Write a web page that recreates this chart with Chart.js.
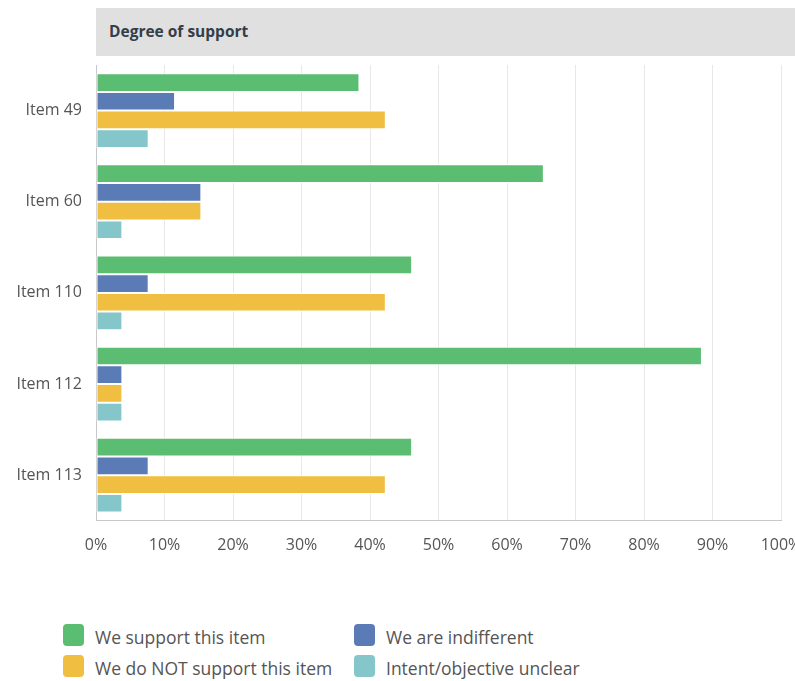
<!DOCTYPE html>
<html>
<head>
<meta charset="utf-8">
<title>Degree of support</title>
<script src="https://cdn.jsdelivr.net/npm/chart.js@4"></script>
<style>
  html, body { margin: 0; padding: 0; background: #fff; overflow: hidden; }
  body { width: 795px; height: 681px; position: relative; font-family: "Open Sans", sans-serif; }
  .header {
    position: absolute; left: 96px; top: 8px; width: 699px; height: 48px;
    background: #e0e0e0; color: #333e48; font-weight: bold; font-size: 15.5px;
    line-height: 46px; padding-left: 13px; box-sizing: border-box;
  }
  .chart-container { position: absolute; left: 0; top: 0; width: 820px; height: 570px; }
  .legend { position: absolute; left: 63px; top: 624px; width: 600px; }
  .legend-item { position: absolute; display: flex; align-items: center; font-size: 17.5px; color: #555; white-space: nowrap; height: 22px; }
  .legend-item .swatch { width: 21px; height: 22px; border-radius: 4px; margin-right: 11px; }
  .legend-item .text { position: relative; top: 2px; }
</style>
</head>
<body>
<div class="header">Degree of support</div>
<div class="chart-container"><canvas id="supportChart"></canvas></div>
<div class="legend" id="legend"></div>

<script>
// Kategoriler ve seriler (yüzde)
const items = ['Item 49', 'Item 60', 'Item 110', 'Item 112', 'Item 113'];
const seriesNames = ['We support this item', 'We are indifferent', 'We do NOT support this item', 'Intent/objective unclear'];
const seriesColors = ['#5bbd72', '#5a7bb5', '#f0bf41', '#84c6c9'];
const support = [38.46, 65.38, 46.15, 88.46, 46.15];
const indifferent = [11.54, 15.38, 7.69, 3.85, 7.69];
const notSupport = [42.31, 15.38, 42.31, 3.85, 42.31];
const unclear = [7.69, 3.85, 3.85, 3.85, 3.85];
const xTicks = [0, 10, 20, 30, 40, 50, 60, 70, 80, 90, 100];

const seriesValues = [support, indifferent, notSupport, unclear];

const datasets = seriesNames.map(function(name, i) {
  return {
    label: name,
    data: seriesValues[i],
    backgroundColor: seriesColors[i],
    borderColor: '#ffffff',
    borderWidth: 1,
    borderSkipped: false,
    categoryPercentage: 0.82,
    barPercentage: 1.0
  };
});

const tickFont = { family: '"Open Sans", sans-serif', size: 16 };

const chart = new Chart(document.getElementById('supportChart'), {
  type: 'bar',
  data: { labels: items, datasets: datasets },
  options: {
    indexAxis: 'y',
    responsive: true,
    maintainAspectRatio: false,
    animation: false,
    layout: { padding: { top: 65, right: 39, bottom: 0, left: 0 } },
    plugins: {
      legend: { display: false },
      tooltip: { enabled: false }
    },
    scales: {
      x: {
        min: 0,
        max: 100,
        afterBuildTicks: function(scale) {
          scale.ticks = xTicks.map(function(v) { return { value: v }; });
        },
        ticks: {
          callback: function(value) { return value + '%'; },
          color: '#555',
          font: tickFont,
          padding: 15,
          maxRotation: 0
        },
        grid: { color: '#e8e8e8', drawTicks: false },
        border: { color: '#c8c8c8' }
      },
      y: {
        afterFit: function(scale) { scale.width = 96; },
        ticks: {
          color: '#555',
          font: tickFont,
          padding: 14
        },
        grid: { display: false, drawTicks: false },
        border: { color: '#c8c8c8' }
      }
    }
  }
});

// Legende: 2x2 raster uit de datasets
const legendPos = [[0, 0], [291, 0], [0, 31], [291, 31]];
const legendEl = document.getElementById('legend');
chart.data.datasets.forEach(function(ds, i) {
  const el = document.createElement('div');
  el.className = 'legend-item';
  el.style.left = legendPos[i][0] + 'px';
  el.style.top = legendPos[i][1] + 'px';
  el.innerHTML = '<span class="swatch" style="background:' + ds.backgroundColor + '"></span><span class="text">' + ds.label + '</span>';
  legendEl.appendChild(el);
});
</script>
</body>
</html>
